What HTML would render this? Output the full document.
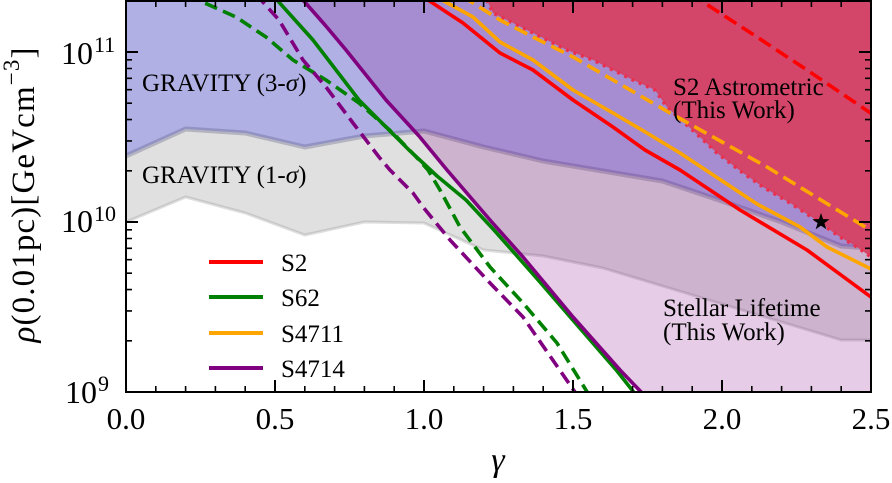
<!DOCTYPE html>
<html>
<head>
<meta charset="utf-8">
<style>
html,body{margin:0;padding:0;background:#fff;}
svg{display:block;font-family:"Liberation Serif","Times New Roman","DejaVu Serif",serif;}
text,tspan{font-family:"Liberation Serif","Times New Roman","DejaVu Serif",serif;fill:#000;}
</style>
</head>
<body>
<svg width="892" height="483" viewBox="0 0 892 483" xmlns="http://www.w3.org/2000/svg" font-family="Liberation Serif, Times New Roman, serif">
<defs>
<clipPath id="plot"><rect x="126" y="1" width="745" height="391"/></clipPath>
</defs>
<g clip-path="url(#plot)">
  <polygon fill="#e0e0e0" points="126,222 185.6,197 245.2,213 304.8,235 364.4,222 424,223 483.6,250 543.2,256 602.8,268 662.4,286 722,304 781.6,322 841.2,340 880,340 880,-10 120,-10 120,222"/>
  <polygon fill="#b0b0e4" points="120,156 126,156 185.6,129 245.2,133 304.8,147 364.4,136 424,131 483.6,147 543.2,161 602.8,171 662.4,181 722,201 781.6,222 841.2,246 880,249 880,-10 120,-10"/>
  <polyline fill="none" stroke="rgba(70,70,110,0.28)" stroke-width="5" stroke-linejoin="round" points="120,156 126,156 185.6,129 245.2,133 304.8,147 364.4,136 424,131 483.6,147 543.2,161 602.8,171 662.4,181 722,201 781.6,222 841.2,246 880,249"/>
  <polyline fill="none" stroke="rgba(110,110,110,0.22)" stroke-width="3" stroke-linejoin="round" points="120,222 126,222 185.6,197 245.2,213 304.8,235 364.4,222 424,223 483.6,250 543.2,256 602.8,268 662.4,286 722,304 781.6,322 841.2,340 880,340"/>
  <polygon fill="#800080" fill-opacity="0.2" points="297,-8 303,0 325,25 346,50 366,75 386,100 419,136 447,170 490,220 523,257 573,317 620,370 642,392 650,400 880,400 880,-10 297,-10"/>
  <polygon fill="#d44669" points="487,-10 487,0 493,13 533,33 567,50 593,60 633,80 655,90 667,107 700,137 717,153 743,173 763,187 790,203 813,218 840,237 857,247 871,257 880,262 880,-10"/>
  <polyline fill="none" stroke="#e8304f" stroke-width="3.5" stroke-dasharray="3 5" points="487,0 493,13 533,33 567,50 593,60 633,80 655,90 667,107 700,137 717,153 743,173 763,187 790,203 813,218 840,237 857,247 871,257"/>

  <polyline fill="none" stroke="#ff0000" stroke-width="3.6" stroke-linejoin="round" points="420,-5 428,0 463,23 500,53 533,70 573,100 613,127 645,150 680,170 740,210 807,250 875,300"/>
  <polyline fill="none" stroke="#ff0000" stroke-width="3.6" stroke-dasharray="14 6.5" points="690,-6 700,0 757,37 807,70 875,116"/>
  <polyline fill="none" stroke="#008000" stroke-width="3.6" stroke-linejoin="round" points="270,-8 277,0 295,20 313,40 336,70 359,100 384,125 409,150 437,176 466,200 494,230 540,282 571,318 617,371 636,395"/>
  <polyline fill="none" stroke="#008000" stroke-width="3.6" stroke-dasharray="13 6.5" points="188,-6 198,0 236,17 266,37 293,60 326,80 359,103 393,133 419,160 428,170 440,190 460,227 490,267 523,303 557,343 589,395"/>
  <polyline fill="none" stroke="#ffa500" stroke-width="3.6" stroke-linejoin="round" points="434,-5 442,0 473,17 500,42 533,60 573,90 613,113 647,133 680,153 757,204 800,227 827,247 875,271"/>
  <polyline fill="none" stroke="#ffa500" stroke-width="3.6" stroke-dasharray="14 6.5" points="462,-4 473,3 500,20 533,37 573,57 613,80 670,113 767,167 875,233"/>
  <polyline fill="none" stroke="#800080" stroke-width="3.6" stroke-linejoin="round" points="297,-8 303,0 325,25 346,50 366,75 386,100 419,136 447,170 490,220 523,257 573,317 620,370 644,395"/>
  <polyline fill="none" stroke="#800080" stroke-width="3.6" stroke-dasharray="13 6.5" points="256,-6 261,0 279,20 303,60 326,87 353,123 379,157 390,170 413,193 423,207 450,240 490,283 523,317 577,395"/>

  <polygon fill="#000" points="821,213 823.1,219.1 829.6,219.2 824.4,223.1 826.3,229.3 821,225.6 815.7,229.3 817.6,223.1 812.4,219.2 818.9,219.1"/>
</g>

<text x="142" y="91" font-size="25">GRAVITY (3-<tspan font-style="italic">σ</tspan>)</text>
<text x="142" y="183" font-size="25">GRAVITY (1-<tspan font-style="italic">σ</tspan>)</text>
<text x="673" y="95" font-size="25">S2 Astrometric</text>
<text x="673" y="118" font-size="25">(This Work)</text>
<text x="663" y="316" font-size="25">Stellar Lifetime</text>
<text x="663" y="340" font-size="25">(This Work)</text>

<g stroke-width="4">
  <line x1="209" y1="262" x2="263" y2="262" stroke="#ff0000"/>
  <line x1="209" y1="297" x2="263" y2="297" stroke="#008000"/>
  <line x1="209" y1="333" x2="263" y2="333" stroke="#ffa500"/>
  <line x1="209" y1="368" x2="263" y2="368" stroke="#800080"/>
</g>
<text x="281" y="271" font-size="25">S2</text>
<text x="281" y="306" font-size="25">S62</text>
<text x="281" y="342" font-size="25">S4711</text>
<text x="281" y="377" font-size="25">S4714</text>

<rect x="126" y="1" width="745" height="391" fill="none" stroke="#000" stroke-width="2"/>
<path stroke="#000" stroke-width="2" fill="none" d="
M126 392v-12 M275 392v-12 M424 392v-12 M573 392v-12 M722 392v-12 M871 392v-12
M126 1v12 M275 1v12 M424 1v12 M573 1v12 M722 1v12 M871 1v12
M126 392h12 M126 222h12 M126 52h12
M871 392h-12 M871 222h-12 M871 52h-12"/>
<path stroke="#000" stroke-width="1.6" fill="none" d="
M155.8 392v-6 M185.6 392v-6 M215.4 392v-6 M245.2 392v-6 M304.8 392v-6 M334.6 392v-6 M364.4 392v-6 M394.2 392v-6 M453.8 392v-6 M483.6 392v-6 M513.4 392v-6 M543.2 392v-6 M602.8 392v-6 M632.6 392v-6 M662.4 392v-6 M692.2 392v-6 M751.8 392v-6 M781.6 392v-6 M811.4 392v-6 M841.2 392v-6
M155.8 1v6 M185.6 1v6 M215.4 1v6 M245.2 1v6 M304.8 1v6 M334.6 1v6 M364.4 1v6 M394.2 1v6 M453.8 1v6 M483.6 1v6 M513.4 1v6 M543.2 1v6 M602.8 1v6 M632.6 1v6 M662.4 1v6 M692.2 1v6 M751.8 1v6 M781.6 1v6 M811.4 1v6 M841.2 1v6
M126 340.8h6 M126 310.9h6 M126 289.6h6 M126 273.2h6 M126 259.7h6 M126 248.3h6 M126 238.5h6 M126 229.8h6
M126 170.8h6 M126 140.9h6 M126 119.6h6 M126 103.2h6 M126 89.7h6 M126 78.3h6 M126 68.5h6 M126 59.8h6
M871 340.8h-6 M871 310.9h-6 M871 289.6h-6 M871 273.2h-6 M871 259.7h-6 M871 248.3h-6 M871 238.5h-6 M871 229.8h-6
M871 170.8h-6 M871 140.9h-6 M871 119.6h-6 M871 103.2h-6 M871 89.7h-6 M871 78.3h-6 M871 68.5h-6 M871 59.8h-6"/>

<g font-size="31" text-anchor="middle">
  <text x="126" y="429">0.0</text>
  <text x="275" y="429">0.5</text>
  <text x="424" y="429">1.0</text>
  <text x="573" y="429">1.5</text>
  <text x="722" y="429">2.0</text>
  <text x="871" y="429">2.5</text>
</g>
<text x="93" y="64" font-size="32" text-anchor="end">10</text>
<text x="94" y="52" font-size="22">11</text>
<text x="93" y="232" font-size="32" text-anchor="end">10</text>
<text x="94" y="221" font-size="22">10</text>
<text x="97" y="403" font-size="32" text-anchor="end">10</text>
<text x="98" y="391" font-size="22">9</text>

<text x="498" y="471" font-size="34" font-style="italic" text-anchor="middle">γ</text>
<text transform="translate(34,195) rotate(-90)" font-size="33" text-anchor="middle" textLength="295" lengthAdjust="spacing"><tspan font-style="italic">ρ</tspan>(0.01pc)[GeVcm<tspan font-size="23" dy="-15">−3</tspan><tspan dy="15">]</tspan></text>
</svg>
</body>
</html>
